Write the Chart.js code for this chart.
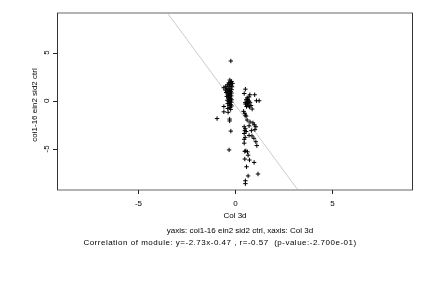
<!DOCTYPE html>
<html>
<head>
<meta charset="utf-8">
<script src="https://cdn.jsdelivr.net/npm/chart.js@4/dist/chart.umd.min.js"></script>
<style>
html,body{margin:0;padding:0;background:#fff;}
#wrap{width:432px;height:288px;}
</style>
</head>
<body>
<div id="wrap"><canvas id="c" width="432" height="288"></canvas></div>
<script>
// Data
const pointsX = [
 -0.24,-0.29,-0.20,-0.25,-0.35,-0.15,-0.30,-0.40,-0.22,-0.50,-0.33,-0.18,-0.60,-0.45,-0.28,-0.38,-0.20,-0.52,-0.30,-0.42,
 -0.25,-0.35,-0.48,-0.20,-0.30,-0.40,-0.27,-0.36,-0.22,-0.45,-0.30,-0.38,-0.25,-0.33,-0.20,-0.42,-0.28,-0.35,-0.22,-0.30,
 -0.40,-0.25,-0.33,-0.20,-0.60,-0.28,-0.40,-0.25,-0.60,-0.38,-0.95,-0.30,-0.30,-0.24,-0.33,
 0.51,0.45,0.74,0.99,0.60,0.55,0.65,0.70,0.58,0.75,0.62,0.52,0.68,0.80,0.57,0.72,1.08,1.22,0.86,0.62,
 0.70,0.50,0.51,0.60,0.45,0.70,0.90,0.97,1.05,0.82,0.70,0.85,0.45,0.45,0.45,0.50,1.05,1.10,0.53,0.62,
 0.48,0.65,0.48,0.72,0.96,0.57,0.65,1.16,0.51,0.51,0.42,0.48,0.55,0.75,0.50,0.55,1.00,0.95,0.48
];
const pointsY = [
 4.12,2.15,2.00,1.90,1.85,1.80,1.70,1.65,1.60,1.50,1.50,1.45,1.35,1.30,1.30,1.20,1.15,1.10,1.05,1.00,
 0.95,0.90,0.85,0.80,0.75,0.70,0.60,0.55,0.50,0.45,0.40,0.30,0.25,0.15,0.10,0.05,0.00,-0.10,-0.15,-0.25,
 -0.30,-0.40,-0.50,-0.55,-0.60,-0.70,-0.80,-0.90,-1.15,-1.20,-1.85,-1.90,-2.10,-3.15,-5.10,
 1.20,0.75,0.62,0.62,0.30,0.10,0.05,-0.05,-0.15,-0.20,-0.30,-0.35,-0.45,-0.50,-0.60,-0.65,0.00,0.00,-0.86,0.15,
 0.40,-0.20,-1.50,-2.00,-2.70,-2.60,-2.30,-2.50,-2.70,-3.10,-3.60,-3.65,-3.40,-4.00,-4.40,-3.80,-4.25,-4.65,-5.20,-5.30,
 -5.25,-5.65,-6.05,-6.15,-6.40,-6.85,-7.80,-7.60,-8.30,-8.60,-1.10,-1.30,-1.60,-2.20,-2.90,-3.20,-3.00,-3.90,-3.10
];
const fitSlope = -2.73;
const fitIntercept = -0.47;
const fitXEnds = [-9.2, 9.15];
const xTicks = [-5, 0, 5];
const yTicks = [-5, 0, 5];
const xRange = [-9.2, 9.15];
const yRange = [-9.26, 9.1];
const xTitle = 'Col 3d';
const yTitle = 'coi1-16 ein2 sid2 ctrl';
const subtitle1 = 'yaxis: coi1-16 ein2 sid2 ctrl, xaxis: Col 3d';
const subtitle2 = 'Correlation of module: y=-2.73x-0.47 , r=-0.57  (p-value:-2.700e-01)';

const scatterData = pointsX.map((x, i) => ({x: x, y: pointsY[i]}));
const fitData = fitXEnds.map(x => ({x: x, y: fitSlope * x + fitIntercept}));

const FONT = '8px "Liberation Sans", Arial, sans-serif';

const decor = {
  id: 'decor',
  afterDraw(chart) {
    const ctx = chart.ctx;
    const a = chart.chartArea;
    const xs = chart.scales.x, ys = chart.scales.y;
    ctx.save();
    ctx.lineWidth = 1.5;
    ctx.strokeStyle = '#9a9a9a';
    ctx.beginPath();
    ctx.moveTo(a.left, a.top); ctx.lineTo(a.right, a.top);
    ctx.moveTo(a.left, a.bottom); ctx.lineTo(a.right, a.bottom);
    ctx.stroke();
    ctx.lineWidth = 1;
    ctx.strokeStyle = '#333';
    ctx.beginPath();
    ctx.moveTo(a.left + 0.5, a.top); ctx.lineTo(a.left + 0.5, a.bottom);
    ctx.moveTo(a.right - 0.5, a.top); ctx.lineTo(a.right - 0.5, a.bottom);
    ctx.stroke();
    ctx.strokeStyle = '#222';
    ctx.beginPath();
    xTicks.forEach(v => {
      const px = Math.round(xs.getPixelForValue(v)) + 0.5;
      ctx.moveTo(px, a.bottom); ctx.lineTo(px, a.bottom + 4);
    });
    yTicks.forEach(v => {
      const py = Math.round(ys.getPixelForValue(v)) + 0.5;
      ctx.moveTo(a.left, py); ctx.lineTo(a.left - 4, py);
    });
    ctx.stroke();
    ctx.fillStyle = '#000';
    ctx.font = FONT;
    ctx.textAlign = 'center';
    ctx.textBaseline = 'middle';
    xTicks.forEach(v => {
      ctx.fillText(String(v), xs.getPixelForValue(v), 204);
    });
    yTicks.forEach(v => {
      ctx.save();
      ctx.translate(47, ys.getPixelForValue(v));
      ctx.rotate(-Math.PI / 2);
      ctx.fillText(String(v), 0, 0);
      ctx.restore();
    });
    ctx.fillText(xTitle, (a.left + a.right) / 2, 216);
    ctx.save();
    ctx.translate(35, 105);
    ctx.rotate(-Math.PI / 2);
    ctx.fillText(yTitle, 0, 0);
    ctx.restore();
    ctx.fillText(subtitle1, 240, 231);
    ctx.save();
    ctx.letterSpacing = '0.5px';
    ctx.fillText(subtitle2, 220, 242.5);
    ctx.restore();
    ctx.restore();
  }
};

new Chart(document.getElementById('c'), {
  type: 'scatter',
  data: {
    datasets: [
      {
        type: 'scatter',
        data: scatterData,
        pointStyle: 'cross',
        pointRadius: 2.2,
        pointHoverRadius: 2.2,
        borderColor: '#000',
        backgroundColor: '#000',
        pointBorderWidth: 1,
        order: 1
      },
      {
        type: 'line',
        data: fitData,
        borderColor: '#cccccc',
        borderWidth: 1,
        pointRadius: 0,
        fill: false,
        order: 2
      }
    ]
  },
  options: {
    responsive: false,
    animation: false,
    devicePixelRatio: 1,
    layout: {padding: {left: 57, right: 19, top: 13, bottom: 98}},
    plugins: {legend: {display: false}, tooltip: {enabled: false}},
    scales: {
      x: {type: 'linear', min: xRange[0], max: xRange[1], display: false},
      y: {type: 'linear', min: yRange[0], max: yRange[1], display: false}
    }
  },
  plugins: [decor]
});
</script>
</body>
</html>
